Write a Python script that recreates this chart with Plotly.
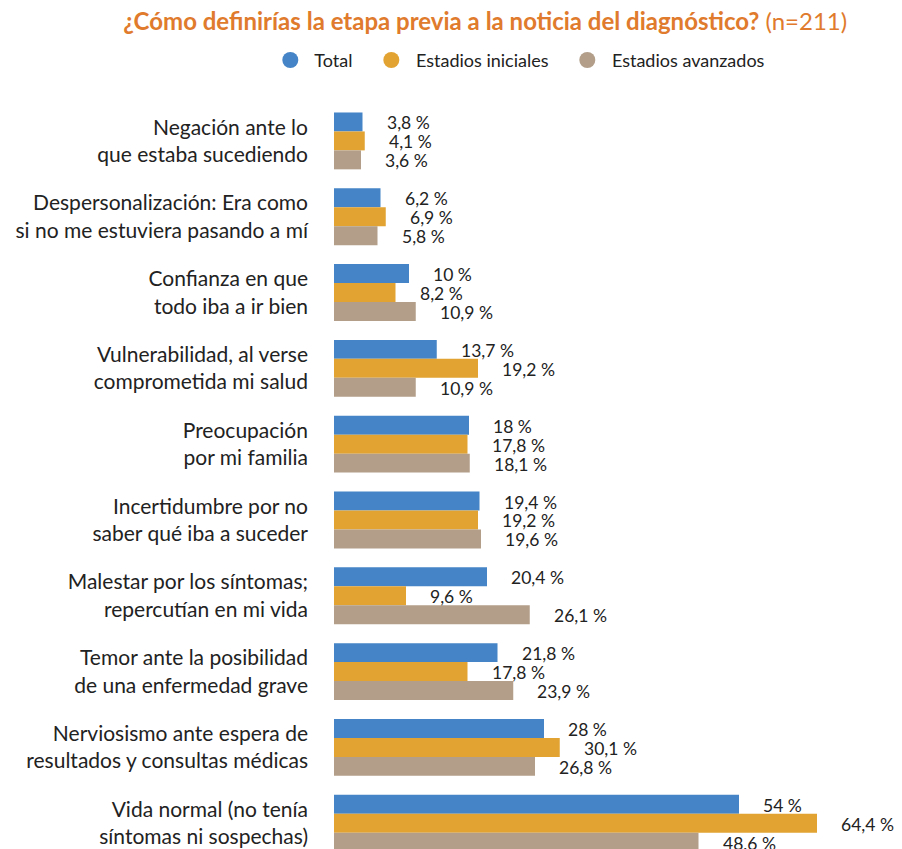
import plotly.graph_objects as go

categories = [
    "Negación ante lo<br>que estaba sucediendo",
    "Despersonalización: Era como<br>si no me estuviera pasando a mí",
    "Confianza en que<br>todo iba a ir bien",
    "Vulnerabilidad, al verse<br>comprometida mi salud",
    "Preocupación<br>por mi familia",
    "Incertidumbre por no<br>saber qué iba a suceder",
    "Malestar por los síntomas;<br>repercutían en mi vida",
    "Temor ante la posibilidad<br>de una enfermedad grave",
    "Nerviosismo ante espera de<br>resultados y consultas médicas",
    "Vida normal (no tenía<br>síntomas ni sospechas)",
]
total = [3.8, 6.2, 10, 13.7, 18, 19.4, 20.4, 21.8, 28, 54]
iniciales = [4.1, 6.9, 8.2, 19.2, 17.8, 19.2, 9.6, 17.8, 30.1, 64.4]
avanzados = [3.6, 5.8, 10.9, 10.9, 18.1, 19.6, 26.1, 23.9, 26.8, 48.6]

series = [
    ("Total", total, "#4584C6"),
    ("Estadios iniciales", iniciales, "#E2A333"),
    ("Estadios avanzados", avanzados, "#B29E89"),
]

NBSP = "\u00a0"

def fmt(v):
    s = f"{v:g}".replace(".", ",")
    return f"{s} %"

fig = go.Figure()
for k, (name, vals, color) in enumerate(series):
    fig.add_trace(go.Bar(
        y=categories, x=vals, orientation="h", name=name,
        marker=dict(color=color, line=dict(width=0)),
        showlegend=False, hoverinfo="x+name",
    ))
    # legend entry drawn as a round marker
    pad = NBSP * 3 if k < len(series) - 1 else ""
    fig.add_trace(go.Scatter(
        x=[None], y=[None], mode="markers", name=NBSP + name + pad,
        marker=dict(symbol="circle", size=16, color=color),
    ))

# Value labels to the right of each bar
n = len(series)
for i, (name, vals, color) in enumerate(series):
    offset = (i - (n - 1) / 2) * 0.25
    for j, v in enumerate(vals):
        fig.add_annotation(
            x=v, y=j + offset, xref="x", yref="y",
            text=fmt(v), showarrow=False, xanchor="left",
            xshift=22, yshift=-1,
            font=dict(size=17.5, color="#222222"),
        )

fig.update_layout(
    width=902, height=849,
    margin=dict(l=334, r=28, t=103, b=0),
    paper_bgcolor="white", plot_bgcolor="white",
    font=dict(family="Lato", color="#222222"),
    barmode="group", bargap=0.25, bargroupgap=0,
    title=dict(
        text="<b>¿Cómo definirías la etapa previa a la noticia del diagnóstico?</b> (n=211)",
        x=0.538, xanchor="center", y=0.974, yanchor="middle",
        font=dict(family="Lato", size=24, color="#E07A2C"),
    ),
    legend=dict(
        orientation="h", x=0.345, xanchor="center", y=0.929, yref="container",
        yanchor="middle", font=dict(size=18, color="#222222"),
        itemsizing="trace",
    ),
    showlegend=True,
)
fig.update_xaxes(range=[0, 72], visible=False, showgrid=False, zeroline=False)
fig.update_yaxes(
    type="category", range=[9.34, -0.5], showgrid=False, zeroline=False,
    showline=False, ticks="", ticklabelstandoff=25,
    tickfont=dict(size=21, color="#222222"),
)

fig.write_html("out.html")
